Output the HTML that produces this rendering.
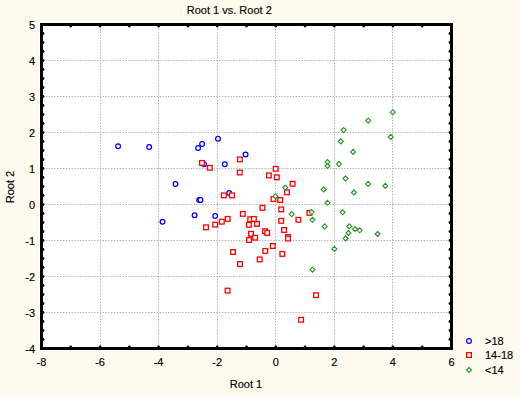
<!DOCTYPE html>
<html><head><meta charset="utf-8"><style>
html,body{margin:0;padding:0;background:rgb(254,251,238);}
body{width:520px;height:396px;overflow:hidden;font-family:"Liberation Sans",sans-serif;}
svg{display:block;}
text{stroke:#000;stroke-width:0.15px;}
</style></head><body>
<svg width="520" height="396" viewBox="0 0 520 396"><rect x="39" y="22" width="415" height="329" fill="#fff"/>
<path d="M100.5 26V346 M158.5 26V346 M217.5 26V346 M275.5 26V346 M334.5 26V346 M392.5 26V346 M43 60.5H449 M43 96.5H449 M43 132.5H449 M43 168.5H449 M43 204.5H449 M43 240.5H449 M43 276.5H449 M43 312.5H449" stroke="#b2b2b2" stroke-width="1" stroke-dasharray="1.42 1.42" fill="none"/>
<g fill="#000"><circle cx="43" cy="33.5" r="1.4"/><circle cx="450" cy="33.5" r="1.4"/><circle cx="43" cy="42.5" r="1.4"/><circle cx="450" cy="42.5" r="1.4"/><circle cx="43" cy="51.5" r="1.4"/><circle cx="450" cy="51.5" r="1.4"/><circle cx="43" cy="60.5" r="1.4"/><circle cx="450" cy="60.5" r="1.4"/><circle cx="43" cy="69.5" r="1.4"/><circle cx="450" cy="69.5" r="1.4"/><circle cx="43" cy="78.5" r="1.4"/><circle cx="450" cy="78.5" r="1.4"/><circle cx="43" cy="87.5" r="1.4"/><circle cx="450" cy="87.5" r="1.4"/><circle cx="43" cy="96.5" r="1.4"/><circle cx="450" cy="96.5" r="1.4"/><circle cx="43" cy="105.5" r="1.4"/><circle cx="450" cy="105.5" r="1.4"/><circle cx="43" cy="114.5" r="1.4"/><circle cx="450" cy="114.5" r="1.4"/><circle cx="43" cy="123.5" r="1.4"/><circle cx="450" cy="123.5" r="1.4"/><circle cx="43" cy="132.5" r="1.4"/><circle cx="450" cy="132.5" r="1.4"/><circle cx="43" cy="141.5" r="1.4"/><circle cx="450" cy="141.5" r="1.4"/><circle cx="43" cy="150.5" r="1.4"/><circle cx="450" cy="150.5" r="1.4"/><circle cx="43" cy="159.5" r="1.4"/><circle cx="450" cy="159.5" r="1.4"/><circle cx="43" cy="168.5" r="1.4"/><circle cx="450" cy="168.5" r="1.4"/><circle cx="43" cy="177.5" r="1.4"/><circle cx="450" cy="177.5" r="1.4"/><circle cx="43" cy="186.5" r="1.4"/><circle cx="450" cy="186.5" r="1.4"/><circle cx="43" cy="195.5" r="1.4"/><circle cx="450" cy="195.5" r="1.4"/><circle cx="43" cy="204.5" r="1.4"/><circle cx="450" cy="204.5" r="1.4"/><circle cx="43" cy="213.5" r="1.4"/><circle cx="450" cy="213.5" r="1.4"/><circle cx="43" cy="222.5" r="1.4"/><circle cx="450" cy="222.5" r="1.4"/><circle cx="43" cy="231.5" r="1.4"/><circle cx="450" cy="231.5" r="1.4"/><circle cx="43" cy="240.5" r="1.4"/><circle cx="450" cy="240.5" r="1.4"/><circle cx="43" cy="249.5" r="1.4"/><circle cx="450" cy="249.5" r="1.4"/><circle cx="43" cy="258.5" r="1.4"/><circle cx="450" cy="258.5" r="1.4"/><circle cx="43" cy="267.5" r="1.4"/><circle cx="450" cy="267.5" r="1.4"/><circle cx="43" cy="276.5" r="1.4"/><circle cx="450" cy="276.5" r="1.4"/><circle cx="43" cy="285.5" r="1.4"/><circle cx="450" cy="285.5" r="1.4"/><circle cx="43" cy="294.5" r="1.4"/><circle cx="450" cy="294.5" r="1.4"/><circle cx="43" cy="303.5" r="1.4"/><circle cx="450" cy="303.5" r="1.4"/><circle cx="43" cy="312.5" r="1.4"/><circle cx="450" cy="312.5" r="1.4"/><circle cx="43" cy="321.5" r="1.4"/><circle cx="450" cy="321.5" r="1.4"/><circle cx="43" cy="330.5" r="1.4"/><circle cx="450" cy="330.5" r="1.4"/><circle cx="43" cy="339.5" r="1.4"/><circle cx="450" cy="339.5" r="1.4"/><circle cx="70.79" cy="26" r="1.4"/><circle cx="70.79" cy="347" r="1.4"/><circle cx="100.07" cy="26" r="1.4"/><circle cx="100.07" cy="347" r="1.4"/><circle cx="129.36" cy="26" r="1.4"/><circle cx="129.36" cy="347" r="1.4"/><circle cx="158.64" cy="26" r="1.4"/><circle cx="158.64" cy="347" r="1.4"/><circle cx="187.93" cy="26" r="1.4"/><circle cx="187.93" cy="347" r="1.4"/><circle cx="217.21" cy="26" r="1.4"/><circle cx="217.21" cy="347" r="1.4"/><circle cx="246.50" cy="26" r="1.4"/><circle cx="246.50" cy="347" r="1.4"/><circle cx="275.79" cy="26" r="1.4"/><circle cx="275.79" cy="347" r="1.4"/><circle cx="305.07" cy="26" r="1.4"/><circle cx="305.07" cy="347" r="1.4"/><circle cx="334.36" cy="26" r="1.4"/><circle cx="334.36" cy="347" r="1.4"/><circle cx="363.64" cy="26" r="1.4"/><circle cx="363.64" cy="347" r="1.4"/><circle cx="392.93" cy="26" r="1.4"/><circle cx="392.93" cy="347" r="1.4"/><circle cx="422.21" cy="26" r="1.4"/><circle cx="422.21" cy="347" r="1.4"/></g>
<rect x="41.5" y="24.5" width="410" height="324" fill="none" stroke="#000" stroke-width="3"/>
<g fill="#fff" stroke-width="1.25">
<circle cx="118.1" cy="146.2" r="2.36" stroke="#0000ff"/>
<circle cx="149.2" cy="147.1" r="2.36" stroke="#0000ff"/>
<circle cx="175.5" cy="184" r="2.36" stroke="#0000ff"/>
<circle cx="162.5" cy="221.7" r="2.36" stroke="#0000ff"/>
<circle cx="194.6" cy="215.2" r="2.36" stroke="#0000ff"/>
<circle cx="215.2" cy="216" r="2.36" stroke="#0000ff"/>
<circle cx="218" cy="138.7" r="2.36" stroke="#0000ff"/>
<circle cx="202.1" cy="144.1" r="2.36" stroke="#0000ff"/>
<circle cx="198.1" cy="148" r="2.36" stroke="#0000ff"/>
<circle cx="245.6" cy="154.5" r="2.36" stroke="#0000ff"/>
<circle cx="204.1" cy="164.3" r="2.36" stroke="#0000ff"/>
<circle cx="224.8" cy="164.2" r="2.36" stroke="#0000ff"/>
<circle cx="229.2" cy="193.1" r="2.36" stroke="#0000ff"/>
<circle cx="199.2" cy="200" r="2.36" stroke="#0000ff"/>
<circle cx="200.5" cy="200" r="2.36" stroke="#0000ff"/>
</g>
<g>
<path d="M236.9 156.4h6v6h-6Z" fill="#ff0000"/><path d="M238.2 157.7h3.4v3.4h-3.4Z" fill="#fff"/>
<path d="M199 159.9h6v6h-6Z" fill="#ff0000"/><path d="M200.3 161.2h3.4v3.4h-3.4Z" fill="#fff"/>
<path d="M206.8 164.8h6v6h-6Z" fill="#ff0000"/><path d="M208.1 166.1h3.4v3.4h-3.4Z" fill="#fff"/>
<path d="M236.8 169.5h6v6h-6Z" fill="#ff0000"/><path d="M238.1 170.8h3.4v3.4h-3.4Z" fill="#fff"/>
<path d="M272.7 165.8h6v6h-6Z" fill="#ff0000"/><path d="M274 167.1h3.4v3.4h-3.4Z" fill="#fff"/>
<path d="M265.9 172.4h6v6h-6Z" fill="#ff0000"/><path d="M267.2 173.7h3.4v3.4h-3.4Z" fill="#fff"/>
<path d="M273.8 174.3h6v6h-6Z" fill="#ff0000"/><path d="M275.1 175.6h3.4v3.4h-3.4Z" fill="#fff"/>
<path d="M289.6 180.8h6v6h-6Z" fill="#ff0000"/><path d="M290.9 182.1h3.4v3.4h-3.4Z" fill="#fff"/>
<path d="M284 189.3h6v6h-6Z" fill="#ff0000"/><path d="M285.3 190.6h3.4v3.4h-3.4Z" fill="#fff"/>
<path d="M220.8 192.4h6v6h-6Z" fill="#ff0000"/><path d="M222.1 193.7h3.4v3.4h-3.4Z" fill="#fff"/>
<path d="M229 192.4h6v6h-6Z" fill="#ff0000"/><path d="M230.3 193.7h3.4v3.4h-3.4Z" fill="#fff"/>
<path d="M270.5 196h6v6h-6Z" fill="#ff0000"/><path d="M271.8 197.3h3.4v3.4h-3.4Z" fill="#fff"/>
<path d="M277.2 197h6v6h-6Z" fill="#ff0000"/><path d="M278.5 198.3h3.4v3.4h-3.4Z" fill="#fff"/>
<path d="M259.5 204.8h6v6h-6Z" fill="#ff0000"/><path d="M260.8 206.1h3.4v3.4h-3.4Z" fill="#fff"/>
<path d="M278.2 206.4h6v6h-6Z" fill="#ff0000"/><path d="M279.5 207.7h3.4v3.4h-3.4Z" fill="#fff"/>
<path d="M239.8 210.9h6v6h-6Z" fill="#ff0000"/><path d="M241.1 212.2h3.4v3.4h-3.4Z" fill="#fff"/>
<path d="M224.7 215.9h6v6h-6Z" fill="#ff0000"/><path d="M226 217.2h3.4v3.4h-3.4Z" fill="#fff"/>
<path d="M218.8 218.7h6v6h-6Z" fill="#ff0000"/><path d="M220.1 220h3.4v3.4h-3.4Z" fill="#fff"/>
<path d="M212.2 221.6h6v6h-6Z" fill="#ff0000"/><path d="M213.5 222.9h3.4v3.4h-3.4Z" fill="#fff"/>
<path d="M203 224.3h6v6h-6Z" fill="#ff0000"/><path d="M204.3 225.6h3.4v3.4h-3.4Z" fill="#fff"/>
<path d="M247.2 216.3h6v6h-6Z" fill="#ff0000"/><path d="M248.5 217.6h3.4v3.4h-3.4Z" fill="#fff"/>
<path d="M250.9 215.9h6v6h-6Z" fill="#ff0000"/><path d="M252.2 217.2h3.4v3.4h-3.4Z" fill="#fff"/>
<path d="M245.9 221.8h6v6h-6Z" fill="#ff0000"/><path d="M247.2 223.1h3.4v3.4h-3.4Z" fill="#fff"/>
<path d="M254 220.9h6v6h-6Z" fill="#ff0000"/><path d="M255.3 222.2h3.4v3.4h-3.4Z" fill="#fff"/>
<path d="M278.2 217.8h6v6h-6Z" fill="#ff0000"/><path d="M279.5 219.1h3.4v3.4h-3.4Z" fill="#fff"/>
<path d="M295.4 216.8h6v6h-6Z" fill="#ff0000"/><path d="M296.7 218.1h3.4v3.4h-3.4Z" fill="#fff"/>
<path d="M306.4 209.9h6v6h-6Z" fill="#ff0000"/><path d="M307.7 211.2h3.4v3.4h-3.4Z" fill="#fff"/>
<path d="M281.1 227h6v6h-6Z" fill="#ff0000"/><path d="M282.4 228.3h3.4v3.4h-3.4Z" fill="#fff"/>
<path d="M285 234.1h6v6h-6Z" fill="#ff0000"/><path d="M286.3 235.4h3.4v3.4h-3.4Z" fill="#fff"/>
<path d="M285 235.6h6v6h-6Z" fill="#ff0000"/><path d="M286.3 236.9h3.4v3.4h-3.4Z" fill="#fff"/>
<path d="M262 228.2h6v6h-6Z" fill="#ff0000"/><path d="M263.3 229.5h3.4v3.4h-3.4Z" fill="#fff"/>
<path d="M264.2 229.9h6v6h-6Z" fill="#ff0000"/><path d="M265.5 231.2h3.4v3.4h-3.4Z" fill="#fff"/>
<path d="M248 230.8h6v6h-6Z" fill="#ff0000"/><path d="M249.3 232.1h3.4v3.4h-3.4Z" fill="#fff"/>
<path d="M252.1 234.7h6v6h-6Z" fill="#ff0000"/><path d="M253.4 236h3.4v3.4h-3.4Z" fill="#fff"/>
<path d="M246.1 237h6v6h-6Z" fill="#ff0000"/><path d="M247.4 238.3h3.4v3.4h-3.4Z" fill="#fff"/>
<path d="M269.8 243h6v6h-6Z" fill="#ff0000"/><path d="M271.1 244.3h3.4v3.4h-3.4Z" fill="#fff"/>
<path d="M262.3 248h6v6h-6Z" fill="#ff0000"/><path d="M263.6 249.3h3.4v3.4h-3.4Z" fill="#fff"/>
<path d="M230 249h6v6h-6Z" fill="#ff0000"/><path d="M231.3 250.3h3.4v3.4h-3.4Z" fill="#fff"/>
<path d="M256.7 256.4h6v6h-6Z" fill="#ff0000"/><path d="M258 257.7h3.4v3.4h-3.4Z" fill="#fff"/>
<path d="M237 261.1h6v6h-6Z" fill="#ff0000"/><path d="M238.3 262.4h3.4v3.4h-3.4Z" fill="#fff"/>
<path d="M224.6 287.6h6v6h-6Z" fill="#ff0000"/><path d="M225.9 288.9h3.4v3.4h-3.4Z" fill="#fff"/>
<path d="M313 292.2h6v6h-6Z" fill="#ff0000"/><path d="M314.3 293.5h3.4v3.4h-3.4Z" fill="#fff"/>
<path d="M298.1 316.8h6v6h-6Z" fill="#ff0000"/><path d="M299.4 318.1h3.4v3.4h-3.4Z" fill="#fff"/>
<path d="M279.3 250.9h6v6h-6Z" fill="#ff0000"/><path d="M280.6 252.2h3.4v3.4h-3.4Z" fill="#fff"/>
</g>
<g fill="#fff" stroke-width="1.15">
<path d="M285.3 185.1L287.8 187.6L285.3 190.1L282.8 187.6Z" stroke="rgb(40,150,40)"/>
<path d="M275.4 193.7L277.9 196.2L275.4 198.7L272.9 196.2Z" stroke="rgb(40,150,40)"/>
<path d="M291.7 211.6L294.2 214.1L291.7 216.6L289.2 214.1Z" stroke="rgb(40,150,40)"/>
<path d="M311.6 209.6L314.1 212.1L311.6 214.6L309.1 212.1Z" stroke="rgb(40,150,40)"/>
<path d="M312.5 217.3L315 219.8L312.5 222.3L310 219.8Z" stroke="rgb(40,150,40)"/>
<path d="M327.5 159.6L330 162.1L327.5 164.6L325 162.1Z" stroke="rgb(40,150,40)"/>
<path d="M327.5 163.5L330 166L327.5 168.5L325 166Z" stroke="rgb(40,150,40)"/>
<path d="M323.7 187L326.2 189.5L323.7 192L321.2 189.5Z" stroke="rgb(40,150,40)"/>
<path d="M327.5 200.3L330 202.8L327.5 205.3L325 202.8Z" stroke="rgb(40,150,40)"/>
<path d="M342.6 209.8L345.1 212.3L342.6 214.8L340.1 212.3Z" stroke="rgb(40,150,40)"/>
<path d="M324.7 223.9L327.2 226.4L324.7 228.9L322.2 226.4Z" stroke="rgb(40,150,40)"/>
<path d="M349.3 223.9L351.8 226.4L349.3 228.9L346.8 226.4Z" stroke="rgb(40,150,40)"/>
<path d="M355 226.5L357.5 229L355 231.5L352.5 229Z" stroke="rgb(40,150,40)"/>
<path d="M359.7 227.8L362.2 230.3L359.7 232.8L357.2 230.3Z" stroke="rgb(40,150,40)"/>
<path d="M348.4 230.5L350.9 233L348.4 235.5L345.9 233Z" stroke="rgb(40,150,40)"/>
<path d="M345.6 236L348.1 238.5L345.6 241L343.1 238.5Z" stroke="rgb(40,150,40)"/>
<path d="M377.6 231.5L380.1 234L377.6 236.5L375.1 234Z" stroke="rgb(40,150,40)"/>
<path d="M334.4 246.4L336.9 248.9L334.4 251.4L331.9 248.9Z" stroke="rgb(40,150,40)"/>
<path d="M312.4 267.2L314.9 269.7L312.4 272.2L309.9 269.7Z" stroke="rgb(40,150,40)"/>
<path d="M392.8 109.7L395.3 112.2L392.8 114.7L390.3 112.2Z" stroke="rgb(40,150,40)"/>
<path d="M368.2 118.1L370.7 120.6L368.2 123.1L365.7 120.6Z" stroke="rgb(40,150,40)"/>
<path d="M343.6 127.6L346.1 130.1L343.6 132.6L341.1 130.1Z" stroke="rgb(40,150,40)"/>
<path d="M390.8 134.4L393.3 136.9L390.8 139.4L388.3 136.9Z" stroke="rgb(40,150,40)"/>
<path d="M340.8 138.9L343.3 141.4L340.8 143.9L338.3 141.4Z" stroke="rgb(40,150,40)"/>
<path d="M353.1 149.4L355.6 151.9L353.1 154.4L350.6 151.9Z" stroke="rgb(40,150,40)"/>
<path d="M339 161.6L341.5 164.1L339 166.6L336.5 164.1Z" stroke="rgb(40,150,40)"/>
<path d="M345.5 175.9L348 178.4L345.5 180.9L343 178.4Z" stroke="rgb(40,150,40)"/>
<path d="M368.1 181.4L370.6 183.9L368.1 186.4L365.6 183.9Z" stroke="rgb(40,150,40)"/>
<path d="M385.3 183.4L387.8 185.9L385.3 188.4L382.8 185.9Z" stroke="rgb(40,150,40)"/>
<path d="M353.9 190L356.4 192.5L353.9 195L351.4 192.5Z" stroke="rgb(40,150,40)"/>
</g>
<g font-family="Liberation Sans, sans-serif" font-size="11" fill="#000"><text x="35" y="28.5" text-anchor="end">5</text><text x="35" y="64.5" text-anchor="end">4</text><text x="35" y="100.5" text-anchor="end">3</text><text x="35" y="136.5" text-anchor="end">2</text><text x="35" y="172.5" text-anchor="end">1</text><text x="35" y="208.5" text-anchor="end">0</text><text x="35" y="244.5" text-anchor="end">-1</text><text x="35" y="280.5" text-anchor="end">-2</text><text x="35" y="316.5" text-anchor="end">-3</text><text x="35" y="352.5" text-anchor="end">-4</text><text x="41.5" y="365.5" text-anchor="middle">-8</text><text x="100.1" y="365.5" text-anchor="middle">-6</text><text x="158.6" y="365.5" text-anchor="middle">-4</text><text x="217.2" y="365.5" text-anchor="middle">-2</text><text x="275.8" y="365.5" text-anchor="middle">0</text><text x="334.4" y="365.5" text-anchor="middle">2</text><text x="392.9" y="365.5" text-anchor="middle">4</text><text x="451.5" y="365.5" text-anchor="middle">6</text></g>
<text x="229.3" y="14" font-family="Liberation Sans, sans-serif" font-size="11" text-anchor="middle">Root 1 vs. Root 2</text>
<text x="246" y="388" font-family="Liberation Sans, sans-serif" font-size="11" text-anchor="middle">Root 1</text>
<text transform="translate(13.9,187) rotate(-90)" font-family="Liberation Sans, sans-serif" font-size="11" text-anchor="middle">Root 2</text>
<g fill="#fff" stroke-width="1.25"><circle cx="469" cy="341" r="2.36" stroke="#0000ff"/></g>
<path d="M466 352h6v6h-6Z" fill="#ff0000"/><path d="M467.3 353.3h3.4v3.4h-3.4Z" fill="#fff"/>
<g fill="#fff" stroke-width="1.15"><path d="M469 367.5L471.5 370L469 372.5L466.5 370Z" stroke="rgb(40,150,40)"/></g>
<g font-family="Liberation Sans, sans-serif" font-size="11"><text x="485" y="345">&gt;18</text><text x="485" y="359">14-18</text><text x="485" y="374">&lt;14</text></g></svg>
</body></html>
